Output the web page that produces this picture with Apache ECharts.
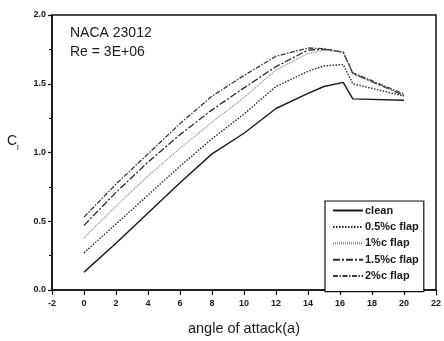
<!DOCTYPE html>
<html>
<head>
<meta charset="utf-8">
<script src="https://cdn.jsdelivr.net/npm/echarts@6/dist/echarts.min.js"></script>
<style>html,body{margin:0;padding:0;background:#fff}#c{width:444px;height:341px}</style>
</head>
<body>
<div id="c"></div>
<script>
var angles = [0, 2, 4, 6, 8, 10, 12, 14, 15, 16.2, 16.8, 20];
var clean   = [0.13, 0.34, 0.56, 0.78, 0.99, 1.14, 1.32, 1.43, 1.48, 1.51, 1.39, 1.38];
var flap05  = [0.27, 0.48, 0.69, 0.90, 1.10, 1.28, 1.48, 1.59, 1.63, 1.64, 1.50, 1.41];
var flap1   = [0.38, 0.61, 0.83, 1.03, 1.22, 1.40, 1.60, 1.72, 1.745, 1.73, 1.57, 1.42];
var flap15  = [0.47, 0.71, 0.93, 1.13, 1.31, 1.47, 1.625, 1.745, 1.75, 1.73, 1.575, 1.415];
var flap2   = [0.53, 0.77, 0.99, 1.21, 1.41, 1.56, 1.70, 1.76, 1.755, 1.73, 1.58, 1.425];
var seriesNames = ['clean', '0.5%c flap', '1%c flap', '1.5%c flap', '2%c flap'];
var xTicks = {min: -2, max: 22, interval: 2};
var yTicks = {min: 0, max: 2, interval: 0.5};

function pairs(ys){ return angles.map(function(a,i){ return [a, ys[i]]; }); }
var styles = [
  {color:'#1a1a1a', width:1.4, type:'solid'},
  {color:'#2a2a2a', width:1.4, type:[1.5,1.5]},
  {color:'#8a8a8a', width:1.2, type:[1,1]},
  {color:'#2a2a2a', width:1.3, type:[7,2,2,2]},
  {color:'#3a3a3a', width:1.3, type:[5,1.5,1.5,1.5]}
];
var data = [clean, flap05, flap1, flap15, flap2];
var series = data.map(function(d,i){
  return {
    name: seriesNames[i], type:'line', data: pairs(d), symbol:'none',
    lineStyle: styles[i], itemStyle:{color: styles[i].color}, z: 5 - i, animation:false
  };
});

var chart = echarts.init(document.getElementById('c'), null, {renderer:'canvas'});
chart.setOption({
  backgroundColor:'#fff',
  animation:false,
  grid:{left:52, right:7, top:15, bottom:50, show:true, borderColor:'#111', borderWidth:1.5},
  xAxis:{
    type:'value', min:xTicks.min, max:xTicks.max, interval:xTicks.interval,
    name:'angle of attack(a)', nameLocation:'middle', nameGap:31,
    nameTextStyle:{fontFamily:'Liberation Sans, Arial', fontSize:14.5, color:'#1a1a1a'},
    axisLine:{onZero:false, lineStyle:{color:'#111', width:1.5}},
    axisTick:{show:true, inside:false, length:5, lineStyle:{color:'#111', width:1.2}},
    axisLabel:{fontFamily:'Liberation Sans, Arial', fontSize:9, fontWeight:'bold', color:'#1a1a1a', margin:9},
    splitLine:{show:false}
  },
  yAxis:{
    type:'value', min:yTicks.min, max:yTicks.max, interval:yTicks.interval,
    axisLine:{show:true, onZero:false, lineStyle:{color:'#111', width:1.5}},
    axisTick:{show:true, inside:false, length:4, lineStyle:{color:'#111', width:1.2}},
    minorTick:{show:true, splitNumber:2, length:3, lineStyle:{color:'#111', width:1}},
    axisLabel:{fontFamily:'Liberation Sans, Arial', fontSize:9, fontWeight:'bold', color:'#1a1a1a', margin:6,
      formatter:function(v){ return v.toFixed(1); }},
    splitLine:{show:false}
  },
  legend:{
    data: seriesNames, orient:'vertical', left:325, top:201,
    padding:[4,5,10,7], itemGap:5.4, itemWidth:30, itemHeight:10,
    borderColor:'#111', borderWidth:1.2, backgroundColor:'#fff',
    itemStyle:{opacity:0},
    textStyle:{fontFamily:'Liberation Sans, Arial', fontSize:11, fontWeight:'bold', color:'#1a1a1a', padding:[0,0,0,-3]}
  },
  graphic:[
    {type:'text', left:70, top:26, style:{text:'NACA 23012', font:'14px "Liberation Sans", Arial', fill:'#1a1a1a'}},
    {type:'text', left:70, top:45, style:{text:'Re = 3E+06', font:'14px "Liberation Sans", Arial', fill:'#1a1a1a'}},
    {type:'text', left:7, top:134, style:{
      text:'{c|C}{s|l}',
      rich:{c:{fontFamily:'Liberation Sans, Arial', fontSize:14, fill:'#1a1a1a', verticalAlign:'bottom'},
            s:{fontFamily:'Liberation Sans, Arial', fontSize:8, fill:'#1a1a1a', verticalAlign:'bottom', padding:[0,0,-4,0]}}
    }}
  ],
  series: series
});
</script>
</body>
</html>
